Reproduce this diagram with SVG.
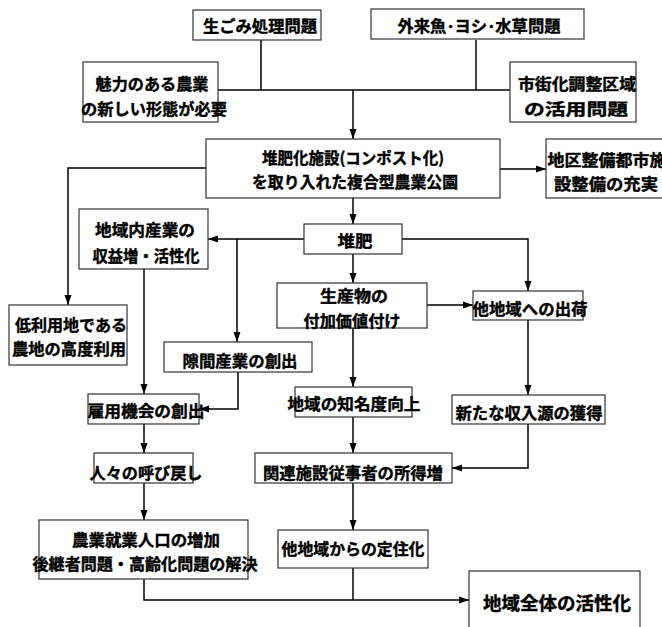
<svg xmlns="http://www.w3.org/2000/svg" width="662" height="627" viewBox="0 0 662 627">
<defs>
<style>
.b{fill:#fff;stroke:#333;stroke-width:1.2}
.t{font-family:"Noto Sans CJK JP","Noto Sans CJK SC",sans-serif;font-weight:bold;font-size:16px;fill:#000;stroke:#000;stroke-width:0.4;text-anchor:middle;dominant-baseline:central}
.c{fill:none;stroke:#000;stroke-width:1.5}
</style>
<marker id="a" markerUnits="userSpaceOnUse" markerWidth="10" markerHeight="10" viewBox="0 0 10 10" refX="10" refY="5" orient="auto">
<path d="M0,1.5 L10,5 L0,8.5 Z" fill="#000"/>
</marker>
</defs>
<rect width="662" height="627" fill="#fff"/>
<g id="connectors">
<path class="c" d="M261,40 V90"/>
<path class="c" d="M476,40 V90"/>
<path class="c" d="M218,90 H510"/>
<path class="c" d="M353,90 V139" marker-end="url(#a)"/>
<path class="c" d="M206,168 H68 V305" marker-end="url(#a)"/>
<path class="c" d="M500,169 H546" marker-end="url(#a)"/>
<path class="c" d="M353,198 V224" marker-end="url(#a)"/>
<path class="c" d="M304,239 H208" marker-end="url(#a)"/>
<path class="c" d="M237,239 V342" marker-end="url(#a)"/>
<path class="c" d="M402,239 H528 V291" marker-end="url(#a)"/>
<path class="c" d="M353,254 V283" marker-end="url(#a)"/>
<path class="c" d="M144,269 V394" marker-end="url(#a)"/>
<path class="c" d="M238,372 V409 H199" marker-end="url(#a)"/>
<path class="c" d="M427,305 H473" marker-end="url(#a)"/>
<path class="c" d="M353,328 V387" marker-end="url(#a)"/>
<path class="c" d="M528,320 V395" marker-end="url(#a)"/>
<path class="c" d="M528,424 V468 H452" marker-end="url(#a)"/>
<path class="c" d="M353,417 V453" marker-end="url(#a)"/>
<path class="c" d="M144,424 V453" marker-end="url(#a)"/>
<path class="c" d="M144,483 V520" marker-end="url(#a)"/>
<path class="c" d="M353,483 V530" marker-end="url(#a)"/>
<path class="c" d="M144,579 V600 H469" marker-end="url(#a)"/>
<path class="c" d="M353,568 V600"/>
</g>
<g id="n1"><rect class="b" x="193" y="10" width="128" height="30"/><text class="t" x="260" y="25" textLength="114" lengthAdjust="spacingAndGlyphs">生ごみ処理問題</text></g>
<g id="n2"><rect class="b" x="371" y="9" width="213" height="30"/><text class="t" x="479" y="25" textLength="163" lengthAdjust="spacingAndGlyphs">外来魚･ヨシ･水草問題</text></g>
<g id="n3"><rect class="b" x="83" y="62" width="135" height="60"/><text class="t" x="152" y="83" textLength="113" lengthAdjust="spacingAndGlyphs">魅力のある農業</text><text class="t" x="154" y="108" textLength="146" lengthAdjust="spacingAndGlyphs">の新しい形態が必要</text></g>
<g id="n4"><rect class="b" x="510" y="62" width="126" height="60"/><text class="t" x="577" y="83" textLength="118" lengthAdjust="spacingAndGlyphs">市街化調整区域</text><text class="t" x="576" y="108" textLength="104" lengthAdjust="spacingAndGlyphs">の活用問題</text></g>
<g id="n5"><rect class="b" x="206" y="139" width="294" height="59"/><text class="t" x="353" y="157" textLength="182" lengthAdjust="spacingAndGlyphs">堆肥化施設(コンポスト化)</text><text class="t" x="355" y="181" textLength="206" lengthAdjust="spacingAndGlyphs">を取り入れた複合型農業公園</text></g>
<g id="n6"><rect class="b" x="546" y="139" width="120" height="59"/><text class="t" x="607" y="159" textLength="119" lengthAdjust="spacingAndGlyphs">地区整備都市施</text><text class="t" x="606" y="183" textLength="104" lengthAdjust="spacingAndGlyphs">設整備の充実</text></g>
<g id="n7"><rect class="b" x="79" y="209" width="129" height="60"/><text class="t" x="145" y="229" textLength="100" lengthAdjust="spacingAndGlyphs">地域内産業の</text><text class="t" x="146" y="255" textLength="107" lengthAdjust="spacingAndGlyphs">収益増・活性化</text></g>
<g id="n8"><rect class="b" x="304" y="224" width="98" height="30"/><text class="t" x="355" y="240" textLength="35" lengthAdjust="spacingAndGlyphs">堆肥</text></g>
<g id="n9"><rect class="b" x="9" y="305" width="118" height="60"/><text class="t" x="71" y="324" textLength="112" lengthAdjust="spacingAndGlyphs">低利用地である</text><text class="t" x="69" y="348" textLength="114" lengthAdjust="spacingAndGlyphs">農地の高度利用</text></g>
<g id="n10"><rect class="b" x="277" y="283" width="150" height="45"/><text class="t" x="354" y="295" textLength="68" lengthAdjust="spacingAndGlyphs">生産物の</text><text class="t" x="352" y="320" textLength="97" lengthAdjust="spacingAndGlyphs">付加価値付け</text></g>
<g id="n11"><rect class="b" x="473" y="291" width="110" height="29"/><text class="t" x="530" y="308" textLength="115" lengthAdjust="spacingAndGlyphs">他地域への出荷</text></g>
<g id="n12"><rect class="b" x="164" y="342" width="148" height="30"/><text class="t" x="240" y="360" textLength="115" lengthAdjust="spacingAndGlyphs">隙間産業の創出</text></g>
<g id="n13"><rect class="b" x="88" y="394" width="111" height="30"/><text class="t" x="146" y="410" textLength="117" lengthAdjust="spacingAndGlyphs">雇用機会の創出</text></g>
<g id="n14"><rect class="b" x="295" y="387" width="117" height="30"/><text class="t" x="354" y="403" textLength="133" lengthAdjust="spacingAndGlyphs">地域の知名度向上</text></g>
<g id="n15"><rect class="b" x="452" y="395" width="153" height="29"/><text class="t" x="529" y="412" textLength="147" lengthAdjust="spacingAndGlyphs">新たな収入源の獲得</text></g>
<g id="n16"><rect class="b" x="94" y="453" width="99" height="30"/><text class="t" x="146" y="472" textLength="113" lengthAdjust="spacingAndGlyphs">人々の呼び戻し</text></g>
<g id="n17"><rect class="b" x="255" y="453" width="197" height="30"/><text class="t" x="353" y="472" textLength="180" lengthAdjust="spacingAndGlyphs">関連施設従事者の所得増</text></g>
<g id="n18"><rect class="b" x="39" y="520" width="209" height="59"/><text class="t" x="146" y="539" textLength="148" lengthAdjust="spacingAndGlyphs">農業就業人口の増加</text><text class="t" x="145" y="563" textLength="225" lengthAdjust="spacingAndGlyphs">後継者問題・高齢化問題の解決</text></g>
<g id="n19"><rect class="b" x="278" y="530" width="150" height="38"/><text class="t" x="353" y="548" textLength="143" lengthAdjust="spacingAndGlyphs">他地域からの定住化</text></g>
<g id="n20"><rect class="b" x="469" y="571" width="171" height="60"/><text class="t" x="557" y="602" textLength="148" lengthAdjust="spacingAndGlyphs" style="font-size:18.5px">地域全体の活性化</text></g>
</svg>
